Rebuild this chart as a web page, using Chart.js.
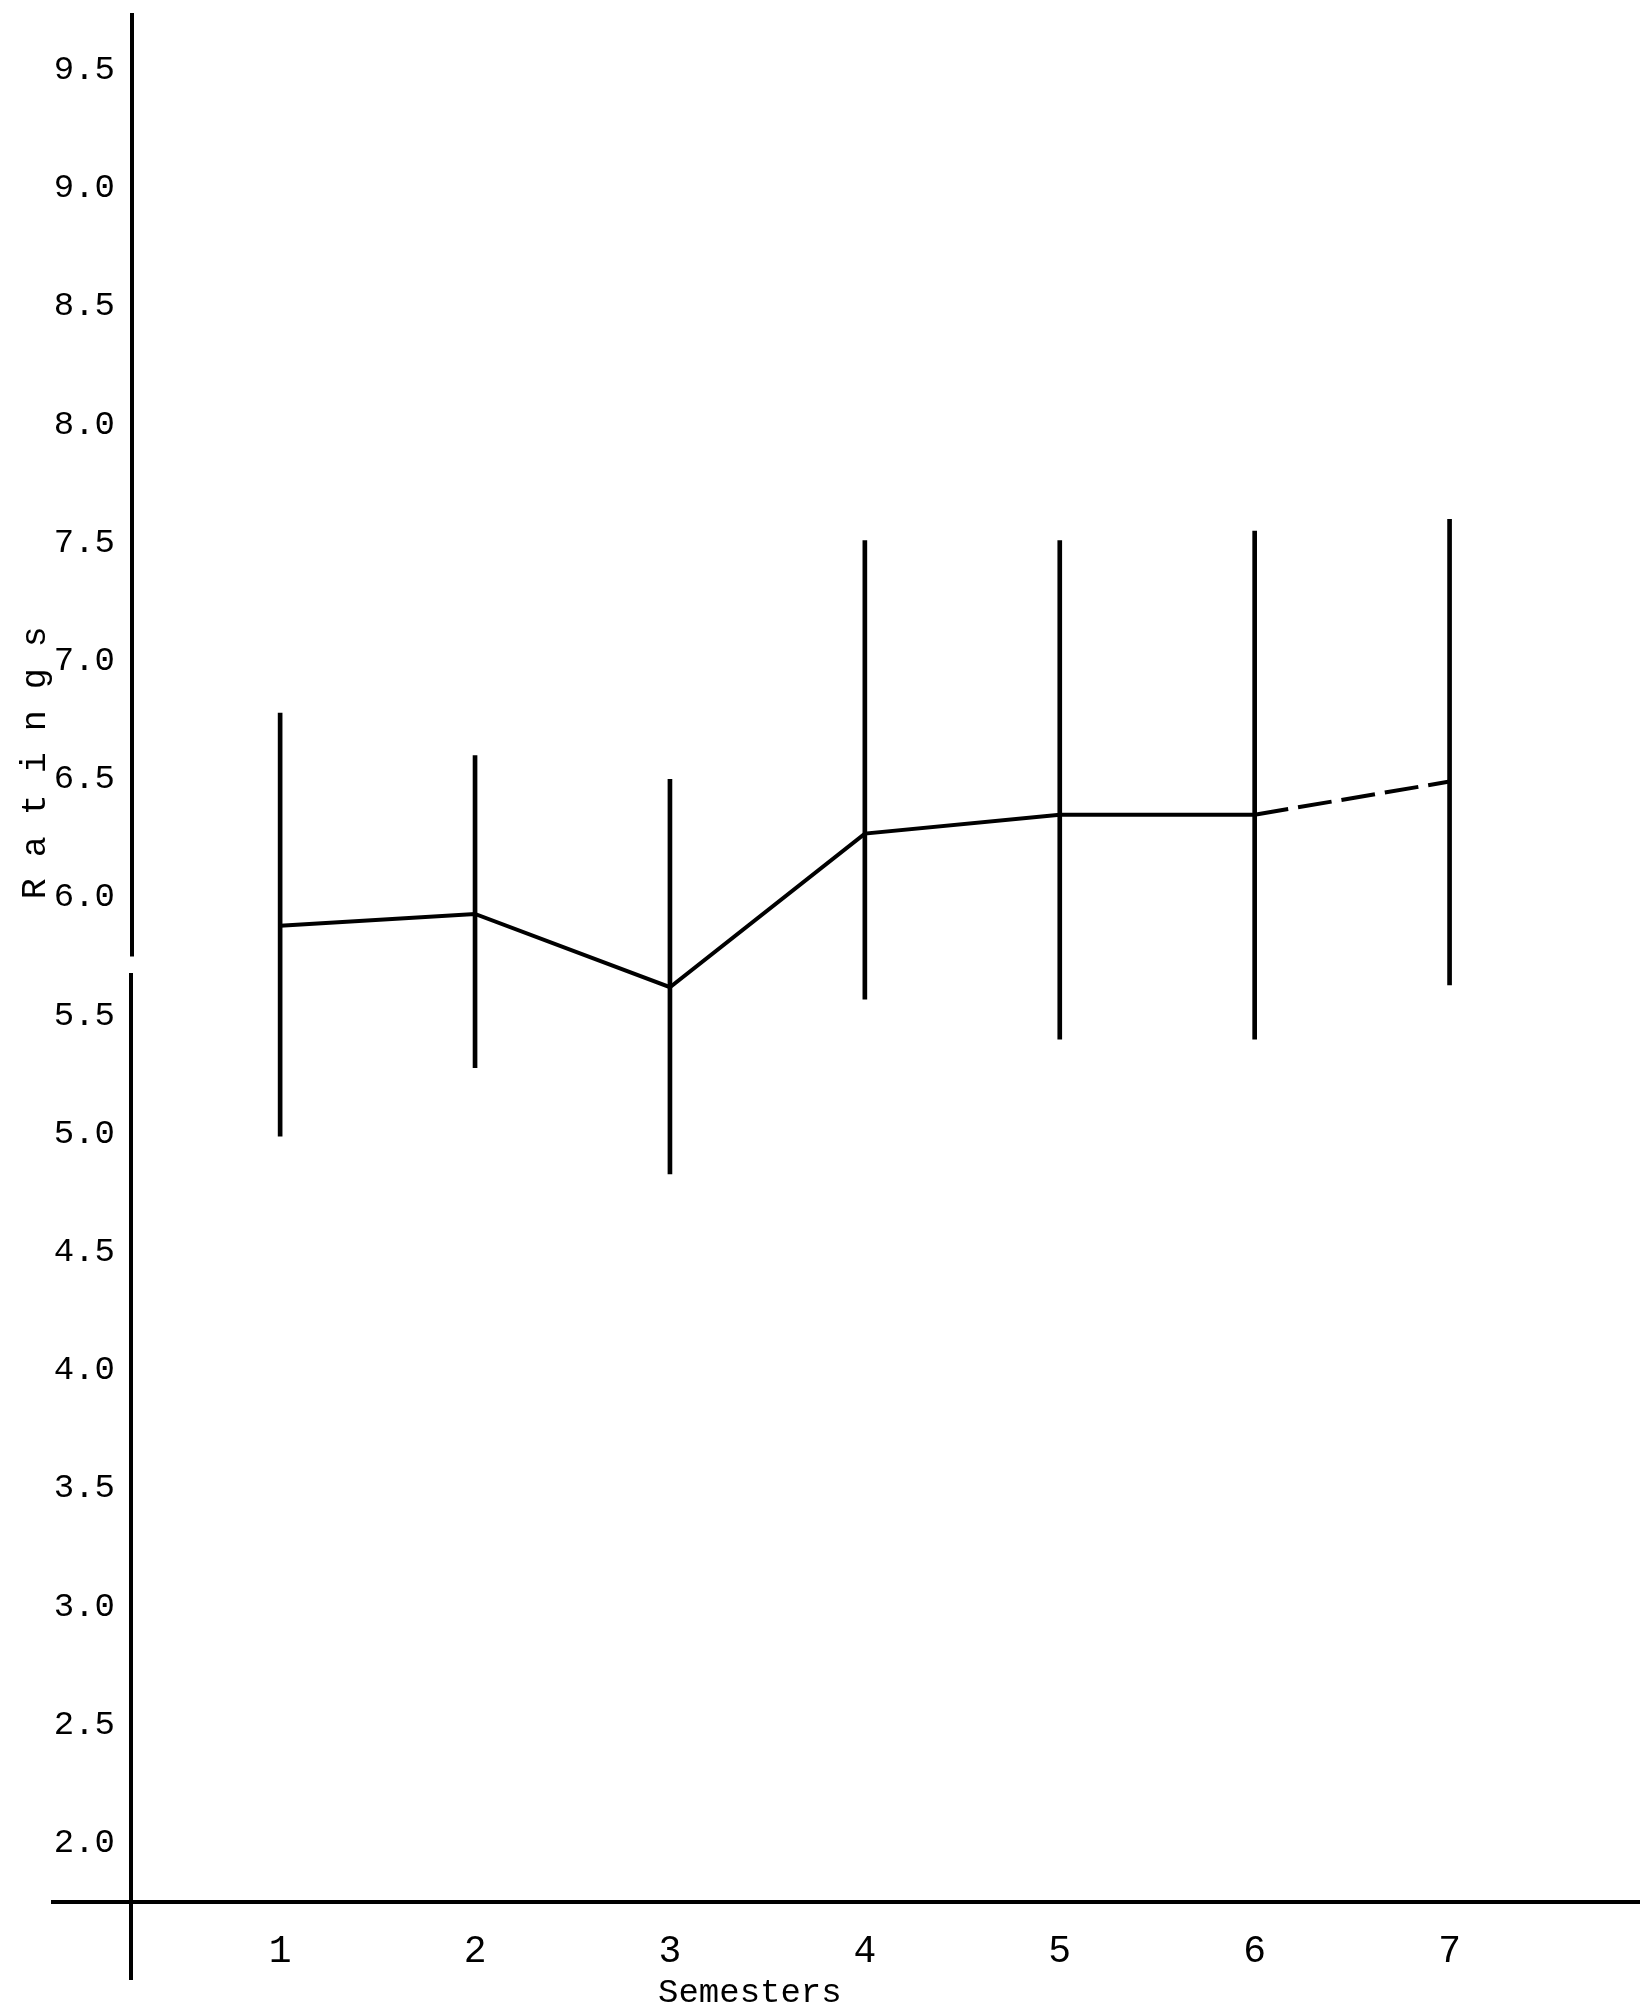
<!DOCTYPE html>
<html>
<head>
<meta charset="utf-8">
<script src="https://cdn.jsdelivr.net/npm/chart.js@4"></script>
<style>
  html, body { margin: 0; padding: 0; background: #fff; }
  #wrap { width: 1640px; height: 2006px; position: relative; }
</style>
</head>
<body>
<div id="wrap"><canvas id="c"></canvas></div>
<script>
// ---- data ----
const semesters = [1, 2, 3, 4, 5, 6, 7];
const meanRatings = [5.88, 5.93, 5.62, 6.27, 6.35, 6.35, 6.49];
const rangeLow  = [4.99, 5.28, 4.83, 5.57, 5.40, 5.40, 5.63];
const rangeHigh = [6.78, 6.60, 6.50, 7.51, 7.51, 7.55, 7.60];
const yTickValues = [2.0, 2.5, 3.0, 3.5, 4.0, 4.5, 5.0, 5.5, 6.0, 6.5, 7.0, 7.5, 8.0, 8.5, 9.0, 9.5];
const xTitle = 'Semesters';
const yTitle = 'R a t i n g s';

const FONT = "'Liberation Mono', 'DejaVu Sans Mono', monospace";

const axisPlugin = {
  id: 'axisExtras',
  afterDraw(chart) {
    const ctx = chart.ctx;
    const a = chart.chartArea;
    const ys = chart.scales.y, xs = chart.scales.x;
    ctx.save();
    ctx.strokeStyle = '#000';
    ctx.lineWidth = 4;
    // x axis line, extended left of the y axis
    ctx.beginPath();
    ctx.moveTo(a.left - 81, a.bottom);
    ctx.lineTo(a.right, a.bottom);
    ctx.stroke();
    // y axis line (with the small break seen in the original), extended below the x axis
    const gapTop = ys.getPixelForValue(5.75), gapBot = ys.getPixelForValue(5.68);
    ctx.beginPath();
    ctx.moveTo(a.left, a.top + 2);
    ctx.lineTo(a.left, gapTop);
    ctx.moveTo(a.left - 1, gapBot);
    ctx.lineTo(a.left - 1, a.bottom + 78);
    ctx.stroke();
    // axis titles
    ctx.fillStyle = '#000';
    ctx.font = "34px " + FONT;
    ctx.textAlign = 'center';
    ctx.textBaseline = 'top';
    ctx.fillText(xTitle, xs.getPixelForValue(3.41), a.bottom + 74);
    ctx.translate(36, ys.getPixelForValue(6.57));
    ctx.rotate(-Math.PI / 2);
    ctx.textBaseline = 'middle';
    ctx.font = "35px " + FONT;
    ctx.fillText(yTitle, 0, 0);
    ctx.restore();
  }
};

const lastIdx = semesters.length - 1;

new Chart(document.getElementById('c'), {
  data: {
    datasets: [
      {
        type: 'line',
        data: semesters.map((s, i) => ({ x: s, y: meanRatings[i] })),
        borderColor: '#000',
        borderWidth: 4,
        pointRadius: 0,
        tension: 0,
        segment: {
          borderDash: (c) => (c.p1DataIndex === lastIdx ? [34, 10] : undefined)
        },
        order: 0
      },
      {
        type: 'bar',
        data: semesters.map((s, i) => ({ x: s, y: [rangeLow[i], rangeHigh[i]] })),
        backgroundColor: '#000',
        borderWidth: 0,
        barThickness: 4,
        grouped: false,
        order: 1
      }
    ]
  },
  options: {
    responsive: true,
    maintainAspectRatio: false,
    animation: false,
    layout: { padding: { top: 11, left: 0, right: 0, bottom: 0 } },
    plugins: { legend: { display: false }, tooltip: { enabled: false }, title: { display: false } },
    scales: {
      x: {
        type: 'linear',
        offset: false,
        min: 0.24,
        max: 7.977,
        grid: { display: false, drawTicks: false, offset: false },
        border: { display: false },
        afterBuildTicks: (s) => { s.ticks = semesters.map(v => ({ value: v })); },
        afterFit: (s) => { s.height = 104; s.paddingLeft = 0; s.paddingRight = 0; },
        ticks: {
          autoSkip: false,
          maxRotation: 0,
          padding: 27,
          color: '#000',
          font: { family: FONT, size: 38 },
          callback: (v) => String(v)
        }
      },
      y: {
        type: 'linear',
        min: 1.75,
        max: 9.75,
        grid: { display: false, drawTicks: false },
        border: { display: false },
        afterBuildTicks: (s) => { s.ticks = yTickValues.map(v => ({ value: v })); },
        afterFit: (s) => { s.width = 132; s.paddingTop = 0; s.paddingBottom = 0; },
        ticks: {
          padding: 17,
          color: '#000',
          font: { family: FONT, size: 34 },
          callback: (v) => Number(v).toFixed(1)
        }
      }
    }
  },
  plugins: [axisPlugin]
});
</script>
</body>
</html>
